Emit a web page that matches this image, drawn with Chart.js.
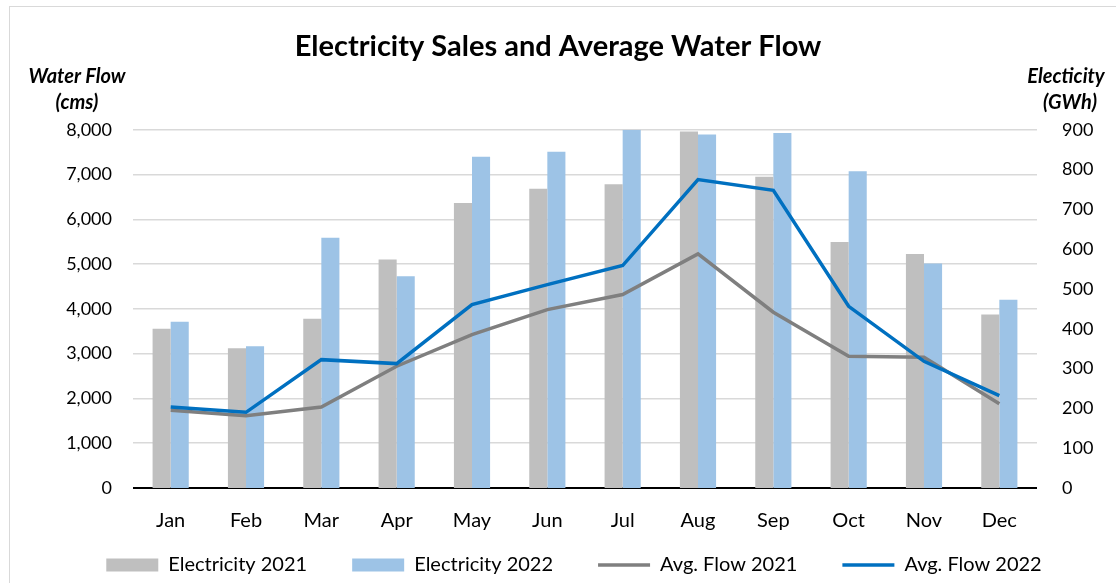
<!DOCTYPE html>
<html>
<head>
<meta charset="utf-8">
<script src="https://cdn.jsdelivr.net/npm/chart.js@4/dist/chart.umd.min.js"></script>
<style>
  html, body { margin: 0; padding: 0; background: #fff; }
  .frame { position: absolute; left: 9px; top: 6px; width: 1130px; height: 600px; border: 1.5px solid #d9d9d9; }
  .wrap { position: absolute; left: 0; top: 0; width: 1116px; height: 583px; }
</style>
</head>
<body>
<div class="frame"></div>
<div class="wrap"><canvas id="chart"></canvas></div>
<script>
// Dữ liệu
const months = ['Jan', 'Feb', 'Mar', 'Apr', 'May', 'Jun', 'Jul', 'Aug', 'Sep', 'Oct', 'Nov', 'Dec'];
const elec2021 = [400, 351, 425, 574, 716, 752, 763, 896, 782, 618, 588, 436];   // GWh
const elec2022 = [418, 356, 629, 532, 832, 845, 900, 888, 892, 796, 564, 473];   // GWh
const flow2021 = [1734, 1616, 1810, 2720, 3426, 3984, 4320, 5229, 3925, 2941, 2919, 1884]; // cms
const flow2022 = [1810, 1690, 2867, 2778, 4096, 4543, 4968, 6890, 6650, 4058, 2829, 2063]; // cms

const FONT = 'Lato';

// Nhãn trục (nằm ngang, phía trên trục)
const axisCaptions = {
  id: 'axisCaptions',
  afterDraw(chart) {
    const ctx = chart.ctx;
    ctx.save();
    ctx.fillStyle = '#000';
    ctx.font = 'italic bold 20px ' + FONT;
    ctx.textAlign = 'center';
    ctx.textBaseline = 'middle';
    ctx.fillText('Water Flow', 77, 77);
    ctx.fillText('(cms)', 77, 103);
    ctx.fillText('Electicity', 1066, 77);
    ctx.fillText('(GWh)', 1070, 103);
    ctx.restore();
  }
};

// Chú thích: khoảng cách ngang lớn nhưng không đẩy biểu đồ lên
const legendTuck = {
  id: 'legendTuck',
  beforeLayout(chart) {
    const lg = chart.legend;
    if (lg && !lg._tucked) {
      const fit = lg.fit;
      lg.fit = function () { fit.call(this); this.height = 29; };
      lg._tucked = true;
    }
  },
  afterLayout(chart) {
    const lg = chart.legend;
    if (!lg) return;
    lg.top = chart.height - 73;
    lg.bottom = chart.height;
    lg.left += 16;
    lg.right += 16;
  }
};

new Chart(document.getElementById('chart'), {
  data: {
    labels: months,
    datasets: [
      { type: 'bar', label: 'Electricity 2021', data: elec2021, yAxisID: 'y1',
        backgroundColor: '#bfbfbf', order: 2 },
      { type: 'bar', label: 'Electricity 2022', data: elec2022, yAxisID: 'y1',
        backgroundColor: '#9dc3e6', order: 2 },
      { type: 'line', label: 'Avg. Flow 2021', data: flow2021, yAxisID: 'y',
        borderColor: '#7f7f7f', backgroundColor: '#7f7f7f', borderWidth: 3.5,
        pointRadius: 0, tension: 0, order: 1 },
      { type: 'line', label: 'Avg. Flow 2022', data: flow2022, yAxisID: 'y',
        borderColor: '#0070c0', backgroundColor: '#0070c0', borderWidth: 3.5,
        pointRadius: 0, tension: 0, order: 0 }
    ]
  },
  options: {
    responsive: true,
    maintainAspectRatio: false,
    animation: false,
    datasets: { bar: { categoryPercentage: 0.48, barPercentage: 1 } },
    layout: { padding: { top: 0, left: 0, right: 0, bottom: 0 } },
    plugins: {
      title: {
        display: true,
        text: 'Electricity Sales and Average Water Flow',
        color: '#000',
        font: { family: FONT, size: 29, weight: 'bold' },
        padding: { top: 29, bottom: 66 }
      },
      legend: {
        position: 'bottom',
        labels: {
          color: '#000',
          font: { family: FONT, size: 20 },
          usePointStyle: true,
          pointStyleWidth: 52,
          boxWidth: 52,
          boxHeight: 13,
          padding: 45,
          generateLabels: chart => Chart.defaults.plugins.legend.labels.generateLabels(chart)
            .sort((a, b) => a.datasetIndex - b.datasetIndex)
            .map(item => {
              const ds = chart.data.datasets[item.datasetIndex];
              item.pointStyle = ds.type === 'line' ? 'line' : 'rect';
              return item;
            })
        }
      },
      tooltip: { enabled: false }
    },
    scales: {
      x: {
        grid: { display: false, drawTicks: false },
        border: { display: false },
        ticks: { color: '#000', font: { family: FONT, size: 20 }, padding: 21 }
      },
      y: {
        position: 'left',
        min: 0, max: 8000,
        ticks: { stepSize: 1000, color: '#000', font: { family: FONT, size: 18 }, padding: 21 },
        grid: {
          drawTicks: false,
          lineWidth: ctx => ctx.tick && ctx.tick.value === 0 ? 2 : 1.5,
          color: ctx => ctx.tick && ctx.tick.value === 0 ? '#000' : '#d9d9d9'
        },
        border: { display: false },
        afterFit: scale => { scale.width = 133; }
      },
      y1: {
        position: 'right',
        min: 0, max: 900,
        ticks: { stepSize: 100, color: '#000', font: { family: FONT, size: 18 }, padding: 25 },
        grid: { display: false, drawTicks: false },
        border: { display: false },
        afterFit: scale => { scale.width = 79; }
      }
    }
  },
  plugins: [axisCaptions, legendTuck]
});
</script>
</body>
</html>
